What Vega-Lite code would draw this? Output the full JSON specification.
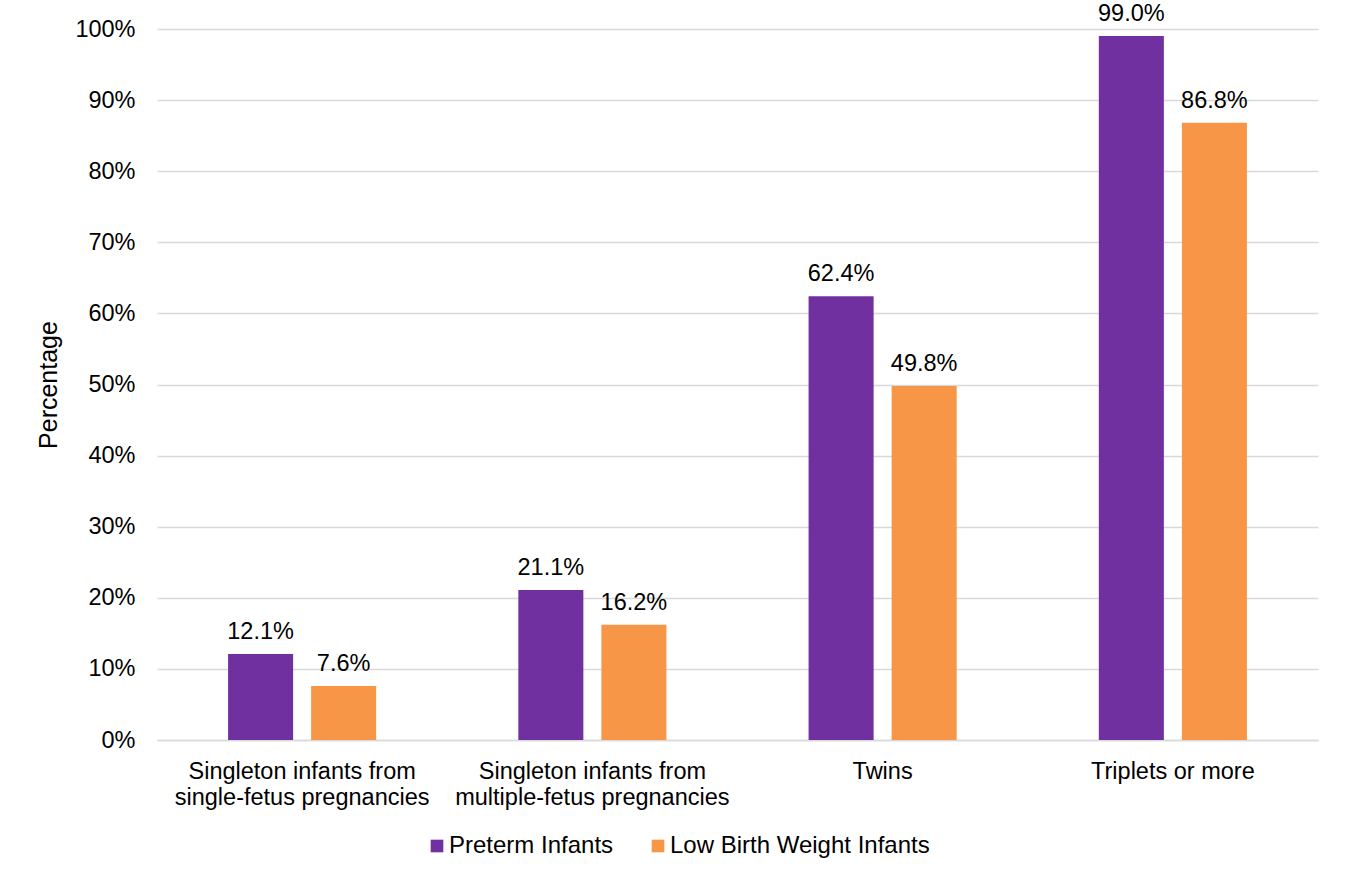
{
  "$schema": "https://vega.github.io/schema/vega-lite/v6.json",
  "width": 1161,
  "height": 711,
  "autosize": {"type": "none"},
  "padding": {"left": 157, "top": 29, "right": 27, "bottom": 144},
  "background": "white",
  "config": {
    "font": "Liberation Sans",
    "view": {"stroke": null},
    "text": {"font": "Liberation Sans"}
  },
  "data": {
    "values": [
      {"category": "Singleton infants from single-fetus pregnancies", "series": "Preterm Infants", "value": 0.121},
      {"category": "Singleton infants from single-fetus pregnancies", "series": "Low Birth Weight Infants", "value": 0.076},
      {"category": "Singleton infants from multiple-fetus pregnancies", "series": "Preterm Infants", "value": 0.211},
      {"category": "Singleton infants from multiple-fetus pregnancies", "series": "Low Birth Weight Infants", "value": 0.162},
      {"category": "Twins", "series": "Preterm Infants", "value": 0.624},
      {"category": "Twins", "series": "Low Birth Weight Infants", "value": 0.498},
      {"category": "Triplets or more", "series": "Preterm Infants", "value": 0.990},
      {"category": "Triplets or more", "series": "Low Birth Weight Infants", "value": 0.868}
    ]
  },
  "encoding": {
    "x": {
      "field": "category",
      "type": "nominal",
      "sort": null,
      "scale": {"paddingInner": 0.428, "paddingOuter": 0.214},
      "axis": {
        "title": null,
        "labelAngle": 0,
        "labelFontSize": 23.5,
        "labelColor": "#000000",
        "labelBaseline": "top",
        "labelPadding": 19,
        "labelLineHeight": 26,
        "labelLimit": 0,
        "ticks": false,
        "domain": true,
        "domainColor": "#d9d9d9",
        "domainWidth": 1.5,
        "labelExpr": "split(replace(datum.label, ' from ', ' from|'), '|')"
      }
    },
    "xOffset": {
      "field": "series",
      "type": "nominal",
      "sort": ["Preterm Infants", "Low Birth Weight Infants"],
      "scale": {"paddingInner": 0.217, "paddingOuter": 0.108}
    },
    "y": {
      "field": "value",
      "type": "quantitative",
      "scale": {"domain": [0, 1], "nice": false},
      "axis": {
        "title": "Percentage",
        "titleFontSize": 25,
        "titleFontWeight": "normal",
        "titleColor": "#000000",
        "titlePadding": 13,
        "format": "%",
        "values": [0, 0.1, 0.2, 0.3, 0.4, 0.5, 0.6, 0.7, 0.8, 0.9, 1],
        "labelFontSize": 23.5,
        "labelColor": "#000000",
        "labelPadding": 22,
        "ticks": false,
        "domain": false,
        "grid": true,
        "gridColor": "#d9d9d9",
        "gridWidth": 1.5
      }
    }
  },
  "layer": [
    {
      "mark": {"type": "bar"},
      "encoding": {
        "color": {
          "field": "series",
          "type": "nominal",
          "scale": {"domain": ["Preterm Infants", "Low Birth Weight Infants"], "range": ["#7030A0", "#F79646"]},
          "legend": {
            "title": null,
            "orient": "none",
            "legendX": 268,
            "legendY": 805,
            "direction": "horizontal",
            "symbolType": "square",
            "symbolSize": 160,
            "symbolStrokeWidth": 0,
            "labelFontSize": 24,
            "labelColor": "#000000",
            "labelOffset": 0,
            "labelLimit": 0,
            "columnPadding": 32
          }
        }
      }
    },
    {
      "mark": {"type": "text", "baseline": "bottom", "dy": -10, "fontSize": 23.5, "color": "#000000"},
      "encoding": {
        "text": {"field": "value", "type": "quantitative", "format": ".1%"}
      }
    }
  ]
}
